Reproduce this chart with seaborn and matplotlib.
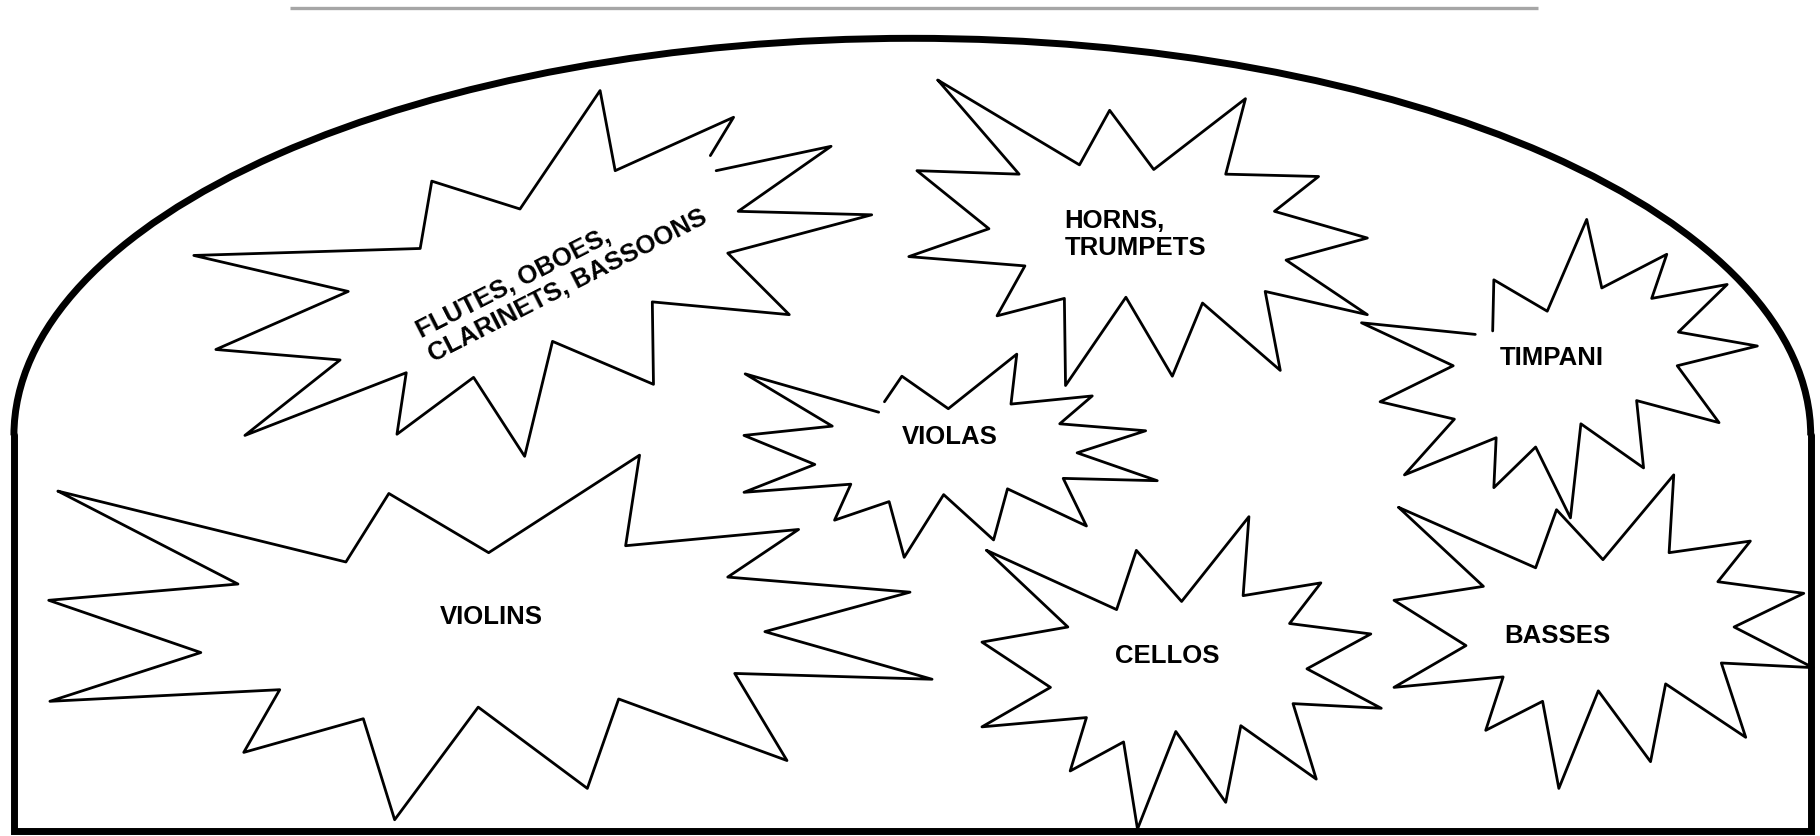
import numpy as np
import pandas as pd
import matplotlib
matplotlib.use("Agg")
import matplotlib.pyplot as plt
from matplotlib.patches import Arc
import seaborn as sns

# Section outlines (vertex lists, drawing units of a 1568 x 720 sheet)
flutes_x = [617, 716, 636, 751, 627, 680, 562, 563, 476, 452, 408, 342, 350, 211,
            293, 186, 300, 167, 362, 372, 448, 517, 530, 632, 612]
flutes_y = [147, 126, 182, 185, 218, 271, 260, 331, 294, 393, 325, 374, 321, 375,
            310, 301, 251, 220, 214, 156, 180, 78, 147, 101, 134]

horns_x = [808, 930, 956, 994, 1073, 1056, 1136, 1098, 1178, 1108, 1178, 1090, 1103,
           1036, 1010, 970, 918, 917, 859, 883, 783, 852, 790, 878, 808]
horns_y = [69, 142, 95, 146, 85, 150, 152, 182, 205, 224, 271, 251, 319,
           261, 324, 256, 332, 257, 272, 229, 221, 197, 147, 150, 69]

timpani_x = [1286, 1287, 1333, 1367, 1380, 1436, 1423, 1488, 1446, 1514, 1445, 1481,
             1410, 1416, 1362, 1353, 1323, 1287, 1289, 1210, 1253, 1189, 1252, 1173, 1271]
timpani_y = [285, 241, 268, 189, 248, 219, 257, 245, 286, 298, 315, 364,
             345, 403, 365, 446, 385, 420, 377, 409, 361, 346, 315, 278, 288]

violas_x = [762, 777, 817, 876, 871, 941, 913, 987, 928, 997, 916, 936, 868, 856,
            813, 779, 766, 719, 733, 641, 702, 641, 717, 642, 757]
violas_y = [346, 324, 352, 305, 348, 341, 365, 371, 390, 414, 412, 453, 421, 465,
            426, 480, 432, 448, 417, 424, 400, 375, 367, 322, 355]

violins_x = [50, 298, 335, 421, 551, 539, 688, 627, 784, 659, 803, 633, 678, 533,
             506, 412, 340, 313, 210, 241, 43, 173, 42, 205, 50]
violins_y = [423, 484, 425, 476, 392, 470, 456, 497, 510, 544, 585, 580, 655, 602,
             679, 609, 706, 619, 648, 594, 604, 562, 517, 503, 423]

cellos_x = [850, 962, 979, 1018, 1076, 1071, 1138, 1111, 1181, 1126, 1190, 1114, 1134,
            1069, 1056, 1013, 980, 968, 922, 936, 846, 905, 846, 920, 850]
cellos_y = [474, 525, 474, 518, 445, 513, 502, 537, 546, 576, 610, 606, 671,
            625, 691, 630, 714, 639, 664, 618, 626, 592, 553, 540, 474]

basses_x = [1205, 1323, 1341, 1381, 1442, 1438, 1508, 1480, 1554, 1494, 1562, 1483, 1504,
            1435, 1422, 1377, 1343, 1329, 1280, 1295, 1201, 1263, 1201, 1278, 1205]
basses_y = [437, 489, 439, 482, 409, 476, 466, 501, 511, 540, 575, 571, 635,
            589, 656, 595, 679, 604, 629, 583, 592, 556, 517, 505, 437]

# Labels
labels = ["FLUTES, OBOES,\nCLARINETS, BASSOONS", "HORNS,\nTRUMPETS", "TIMPANI",
          "VIOLAS", "VIOLINS", "CELLOS", "BASSES"]
label_x = [484, 917, 1337, 818, 423, 1006, 1342]
label_y = [236, 202, 308, 376, 531, 565, 548]
label_rot = [27, 0, 0, 0, 0, 0, 0]
label_ha = ["center", "left", "center", "center", "center", "center", "center"]

# Stage (shell) geometry
stage_left, stage_right, stage_bottom = 12, 1560, 716
arc_center_y, arc_top = 375, 33

sns.set_theme(style="white")
plt.rcParams['font.family'] = ['Liberation Sans', 'DejaVu Sans']

fig = plt.figure(figsize=(18.2, 8.36), dpi=100)
ax = fig.add_axes([0, 0, 1, 1])
ax.set_xlim(0, 1568)
ax.set_ylim(720, 0)
ax.axis("off")

# Gray rule at the very top
ax.plot([250, 1325], [7, 7], color="#a6a6a6", lw=2.4, solid_capstyle="butt")

# Stage outline: walls + floor, then the elliptical roof
ax.plot([stage_left, stage_left, stage_right, stage_right],
        [arc_center_y, stage_bottom, stage_bottom, arc_center_y],
        color="black", lw=5, solid_joinstyle="miter")
ax.add_patch(Arc(((stage_left + stage_right) / 2, arc_center_y),
                 stage_right - stage_left, 2 * (arc_center_y - arc_top),
                 theta1=180, theta2=360, color="black", lw=5))

shapes = [(flutes_x, flutes_y), (horns_x, horns_y), (timpani_x, timpani_y),
          (violas_x, violas_y), (violins_x, violins_y), (cellos_x, cellos_y),
          (basses_x, basses_y)]
for sx, sy in shapes:
    sns.lineplot(x=sx, y=sy, sort=False, estimator=None, color="black",
                 lw=2.0, ax=ax)

for txt, x, y, rot, ha in zip(labels, label_x, label_y, label_rot, label_ha):
    ax.text(x, y, txt, fontsize=18.5, fontweight="bold", ha=ha, va="center",
            rotation=rot, multialignment="left", linespacing=1.15, color="black")

fig.savefig("out.png", dpi=100)
